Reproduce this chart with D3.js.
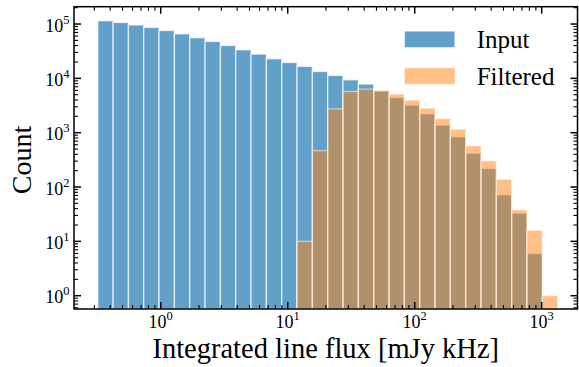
<!DOCTYPE html>
<html>
<head>
<meta charset="utf-8">
<script src="https://cdn.jsdelivr.net/npm/d3@7"></script>
<style>
  html, body { margin: 0; padding: 0; background: #fff; }
  svg { display: block; font-family: "Liberation Serif", "DejaVu Serif", serif; }
</style>
</head>
<body>
<svg id="chart" width="579" height="367"></svg>
<script>
// Logarithmic bin edges of the line-flux histogram [mJy kHz]
const binEdges = [0.3192, 0.4214, 0.5565, 0.7348, 0.9703, 1.281, 1.692, 2.234, 2.950, 3.896,
  5.144, 6.792, 8.971, 11.84, 15.64, 20.65, 27.27, 36.01, 47.55, 62.80,
  82.91, 109.5, 144.6, 190.9, 252.0, 333.0, 439.6, 580.4, 766.3, 1012, 1336];

// Counts per bin
const inputCounts = [115000, 107000, 96000, 86500, 76000, 66000, 56000, 47800, 40300, 33600,
  28000, 23000, 19600, 16600, 13400, 11300, 9400, 7850, 5900, 4450,
  3220, 2220, 1380, 840, 420, 219, 72, 33, 6, 0];
const filteredCounts = [0, 0, 0, 0, 0, 0, 0, 0, 0, 0,
  0, 0, 0, 10, 469, 2750, 5730, 6340, 5950, 5130,
  3980, 2830, 1820, 1160, 573, 303, 139, 38, 16, 1];

const seriesNames = ["Input", "Filtered"];
const xTickValues = [1, 10, 100, 1000];
const yTickValues = [1, 10, 100, 1000, 10000, 100000];

const svg = d3.select("#chart");
const m = { left: 74, right: 577.5, top: 6.7, bottom: 309 };

const x = d3.scaleLog().domain([Math.pow(10, -0.683), Math.pow(10, 3.282)]).range([m.left, m.right]);
const y = d3.scaleLog().domain([Math.pow(10, -0.245), Math.pow(10, 5.319)]).range([m.bottom, m.top]);

const colors = { Input: "#1f77b4", Filtered: "#ff7f0e" };
const alphas = { Input: 0.7, Filtered: 0.5 };

function drawHist(counts, name) {
  const bins = counts.map((c, i) => ({ x0: binEdges[i], x1: binEdges[i + 1], c })).filter(d => d.c > 0);
  svg.append("g").selectAll("rect").data(bins).join("rect")
    .attr("x", d => x(d.x0))
    .attr("width", d => x(d.x1) - x(d.x0))
    .attr("y", d => y(d.c))
    .attr("height", d => m.bottom - y(d.c))
    .attr("fill", colors[name])
    .attr("fill-opacity", alphas[name])
    .attr("stroke", "#fff")
    .attr("stroke-opacity", alphas[name])
    .attr("stroke-width", 1.3);
}
drawHist(inputCounts, "Input");
drawHist(filteredCounts, "Filtered");

// Minor tick positions: 2..9 times each decade, inside the domain
function minors(scale) {
  const [a, b] = scale.domain();
  const out = [];
  for (let k = Math.floor(Math.log10(a)); k <= Math.ceil(Math.log10(b)); k++) {
    for (let j = 2; j <= 9; j++) {
      const v = j * Math.pow(10, k);
      if (v >= a && v <= b) out.push(v);
    }
  }
  return out;
}

const ticks = svg.append("g").attr("stroke", "#000");
const majLen = 7, minLen = 4;
function tickSet(vals, len, w) {
  vals.forEach(v => {
    const px = x(v);
    if (px >= m.left && px <= m.right) {
      ticks.append("line").attr("x1", px).attr("x2", px).attr("y1", m.bottom).attr("y2", m.bottom - len).attr("stroke-width", w);
      ticks.append("line").attr("x1", px).attr("x2", px).attr("y1", m.top).attr("y2", m.top + len).attr("stroke-width", w);
    }
  });
}
function tickSetY(vals, len, w) {
  vals.forEach(v => {
    const py = y(v);
    if (py <= m.bottom && py >= m.top) {
      ticks.append("line").attr("y1", py).attr("y2", py).attr("x1", m.left).attr("x2", m.left + len).attr("stroke-width", w);
      ticks.append("line").attr("y1", py).attr("y2", py).attr("x1", m.right).attr("x2", m.right - len).attr("stroke-width", w);
    }
  });
}
tickSet(xTickValues, majLen, 1.5);
tickSet(minors(x), minLen, 1.1);
tickSetY(yTickValues, majLen, 1.5);
tickSetY(minors(y), minLen, 1.1);

// Frame
svg.append("rect")
  .attr("x", m.left).attr("y", m.top)
  .attr("width", m.right - m.left).attr("height", m.bottom - m.top)
  .attr("fill", "none").attr("stroke", "#000").attr("stroke-width", 1.5);

// Power-of-ten tick labels
function powLabel(g, v, anchor) {
  const e = Math.round(Math.log10(v));
  const t = g.append("text").attr("text-anchor", anchor).attr("font-size", 18).attr("fill", "#000");
  t.append("tspan").text("10");
  t.append("tspan").attr("dy", -8).attr("font-size", 12.5).text(e);
  return t;
}
const xl = svg.append("g");
xTickValues.forEach(v => {
  powLabel(xl, v, "middle").attr("x", x(v)).attr("y", 328);
});
const yl = svg.append("g");
yTickValues.forEach(v => {
  powLabel(yl, v, "end").attr("x", 69.5).attr("y", y(v) + 7.5);
});

// Axis titles
svg.append("text")
  .attr("x", (m.left + m.right) / 2).attr("y", 358)
  .attr("text-anchor", "middle").attr("font-size", 28.5)
  .text("Integrated line flux [mJy kHz]");
svg.append("text")
  .attr("transform", "translate(31,160) rotate(-90)")
  .attr("text-anchor", "middle").attr("font-size", 28)
  .text("Count");

// Legend
const leg = svg.append("g");
seriesNames.forEach((name, i) => {
  const top = 31 + i * 36.7;
  leg.append("rect")
    .attr("x", 404.3).attr("y", top).attr("width", 50.7).attr("height", 16.7)
    .attr("fill", colors[name]).attr("fill-opacity", alphas[name])
    .attr("stroke", "#fff").attr("stroke-opacity", alphas[name]).attr("stroke-width", 1.3);
  leg.append("text")
    .attr("x", 476.7).attr("y", top + 17.3)
    .attr("font-size", 25).text(name);
});
</script>
</body>
</html>
